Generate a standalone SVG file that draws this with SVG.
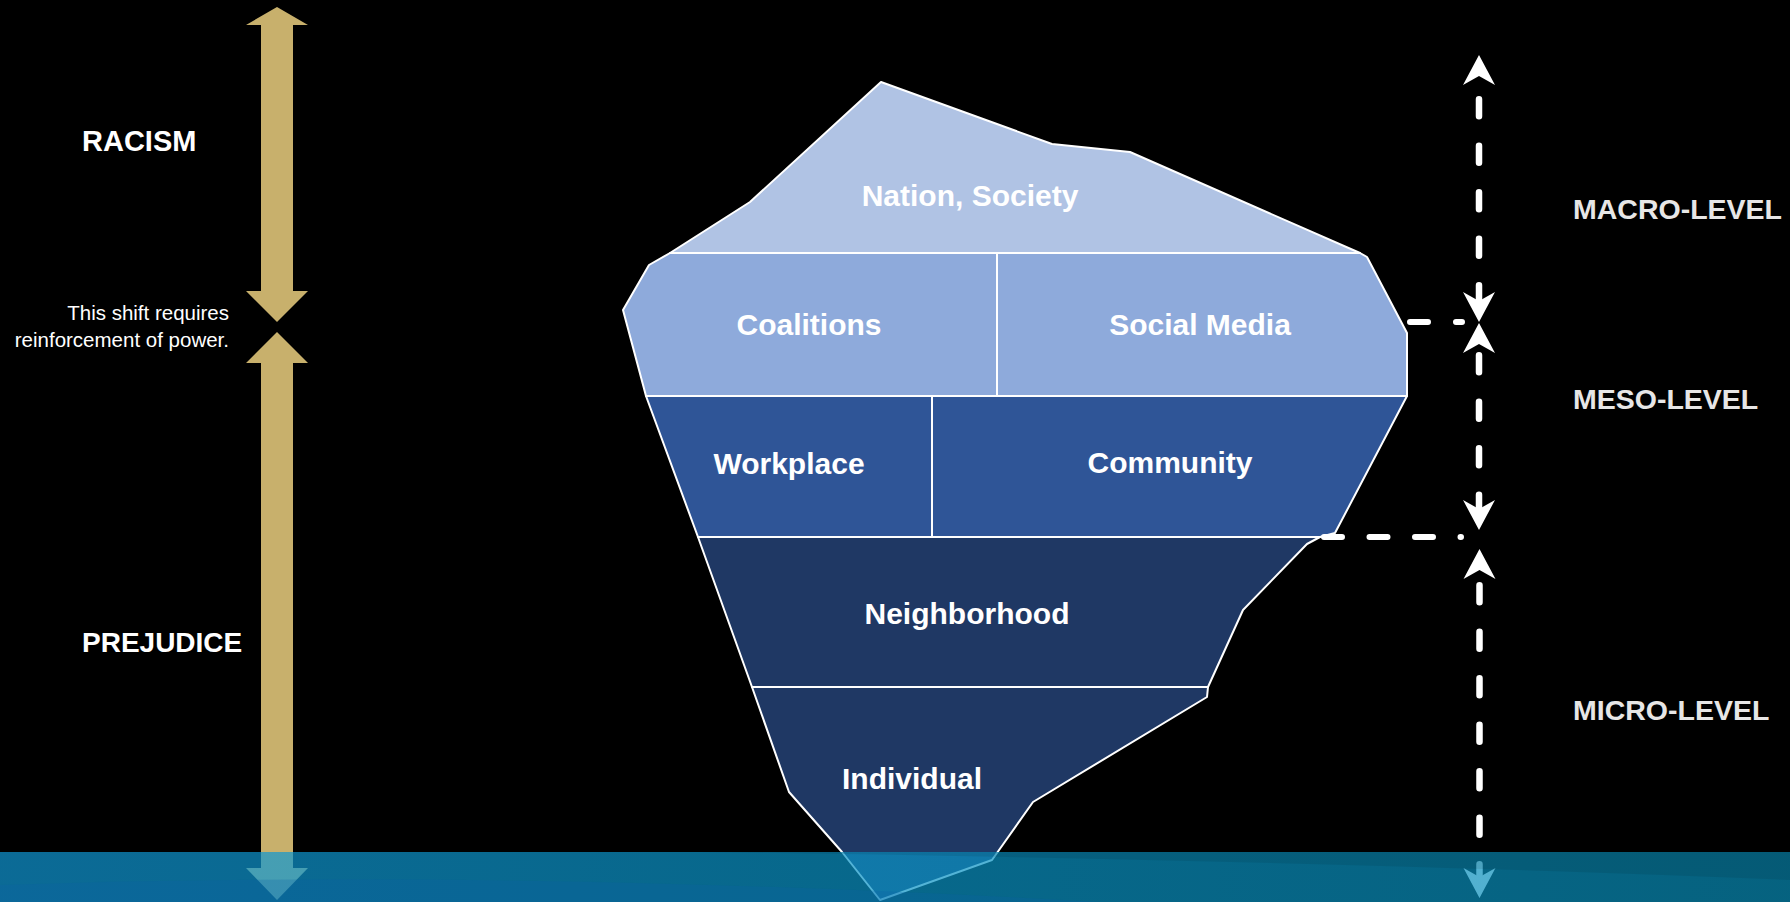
<svg xmlns="http://www.w3.org/2000/svg" width="1790" height="902" viewBox="0 0 1790 902">
<defs>
<style>
.lbl{font-family:"Liberation Sans",Arial,sans-serif;font-weight:bold;font-size:30px;fill:#ffffff;text-anchor:middle}
.lvl{font-family:"Liberation Sans",Arial,sans-serif;font-weight:bold;font-size:28.5px;fill:#E7E6E6}
.side{font-family:"Liberation Sans",Arial,sans-serif;font-weight:bold;fill:#ffffff}
.note{font-family:"Liberation Sans",Arial,sans-serif;font-size:20.5px;fill:#ffffff;text-anchor:end}
.ice{stroke:#ffffff;stroke-width:2;stroke-linejoin:round}
.gold{fill:#C8B06C}
.vdash{stroke:#ffffff;stroke-width:6.5;stroke-linecap:round;fill:none;stroke-dasharray:17 29.5;marker-start:url(#head);marker-end:url(#head)}
.hdash{stroke:#ffffff;stroke-width:6;stroke-linecap:round;fill:none}
</style>
<marker id="head" viewBox="-10 -17 32 34" refX="0" refY="0" markerWidth="32" markerHeight="34" markerUnits="userSpaceOnUse" orient="auto-start-reverse">
<path d="M21,0 L-9,-16 L0,0 L-9,16 Z" fill="#ffffff"/>
</marker>
<linearGradient id="water" x1="0" y1="0" x2="1" y2="0">
<stop offset="0" stop-color="#1098D6"/>
<stop offset="0.5" stop-color="#0A94C6"/>
<stop offset="1" stop-color="#088CB6"/>
</linearGradient>
</defs>
<rect x="0" y="0" width="1790" height="902" fill="#000000"/>

<g id="scale-arrows">
<polygon id="racism-arrow" class="gold" points="277,7 308,25 293,25 293,291 308,291 277,322 246,291 261,291 261,25 246,25"/>
<polygon id="prejudice-arrow" class="gold" points="277,332 308,363 293,363 293,868 308,868 277,900 246,868 261,868 261,363 246,363"/>
</g>

<g id="side-labels">
<text class="side" x="82" y="151" font-size="29">RACISM</text>
<text class="side" x="82" y="652" font-size="28">PREJUDICE</text>
<text class="note" x="229" y="320">This shift requires</text>
<text class="note" x="229" y="347">reinforcement of power.</text>
</g>

<g id="iceberg">
<g id="nation">
<polygon class="ice" fill="#B0C3E4" points="881,82 1052,144 1130,152 1360,253 670,253 750,202"/>
<text class="lbl" x="970" y="206">Nation, Society</text>
</g>
<g id="coalitions">
<polygon class="ice" fill="#8EAADB" points="670,253 997,253 997,396 646,396 623,310 649,265"/>
<text class="lbl" x="809" y="335">Coalitions</text>
</g>
<g id="social-media">
<polygon class="ice" fill="#8EAADB" points="997,253 1360,253 1367,257 1407,333 1407,396 997,396"/>
<text class="lbl" x="1200" y="335">Social Media</text>
</g>
<g id="workplace">
<polygon class="ice" fill="#2F5597" points="646,396 932,396 932,537 698,537"/>
<text class="lbl" x="789" y="474">Workplace</text>
</g>
<g id="community">
<polygon class="ice" fill="#2F5597" points="932,396 1407,396 1335,533 1320,537 932,537"/>
<text class="lbl" x="1170" y="473">Community</text>
</g>
<g id="neighborhood">
<polygon class="ice" fill="#1F3864" points="698,537 1320,537 1307,544 1243,610 1208,687 752,687"/>
<text class="lbl" x="967" y="624">Neighborhood</text>
</g>
<g id="individual">
<polygon class="ice" fill="#1F3864" points="752,687 1208,687 1207,697 1033,802 992,860 880,900 842,852 789,792"/>
<text class="lbl" x="912" y="789">Individual</text>
</g>
</g>

<g id="connectors">
<line class="vdash" x1="1479" y1="76" x2="1479" y2="301" stroke-dashoffset="23.25"/>
<line class="vdash" x1="1479" y1="344" x2="1479" y2="509" stroke-dashoffset="35.25"/>
<line class="vdash" x1="1479.5" y1="570" x2="1479.5" y2="877" stroke-dashoffset="31.25"/>
<line class="hdash" x1="1410" y1="322" x2="1462" y2="322" stroke-dasharray="18 28"/>
<line class="hdash" x1="1324" y1="537" x2="1461" y2="537" stroke-dasharray="18 27.5"/>
</g>

<g id="level-labels">
<text class="lvl" x="1573" y="219">MACRO-LEVEL</text>
<text class="lvl" x="1573" y="409">MESO-LEVEL</text>
<text class="lvl" x="1573" y="720">MICRO-LEVEL</text>
</g>

<g id="water">
<rect x="0" y="852" width="1790" height="50" fill="url(#water)" fill-opacity="0.7"/>
<path d="M0,885 Q500,868 1100,902 L0,902 Z" fill="#0A5FA8" fill-opacity="0.25"/>
<path d="M700,852 Q1300,860 1790,880 L1790,852 Z" fill="#000000" fill-opacity="0.08"/>
</g>
</svg>
